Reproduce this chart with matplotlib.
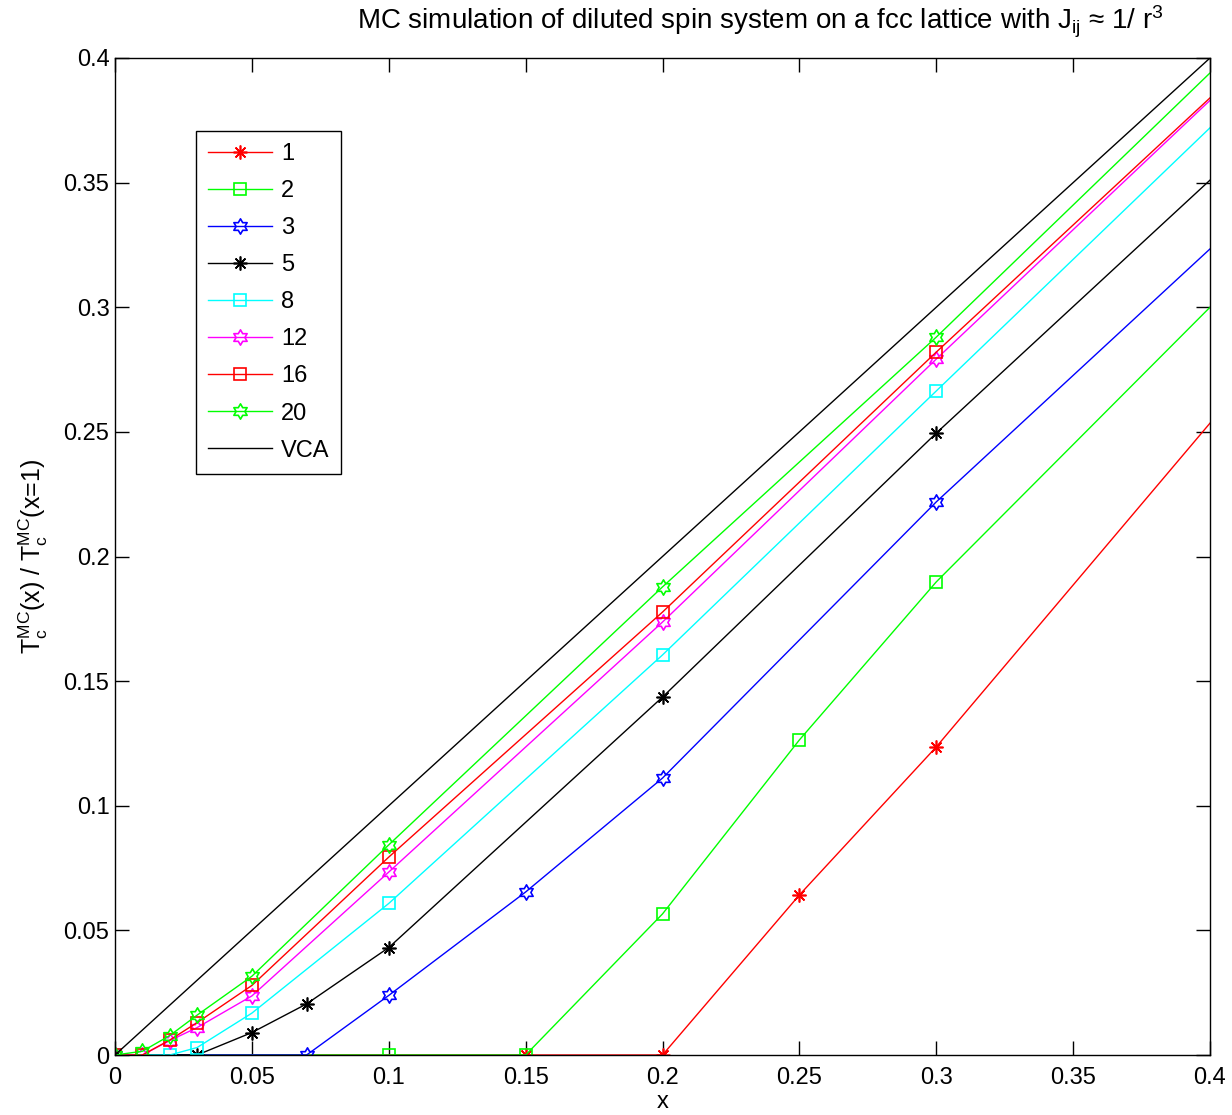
import matplotlib
matplotlib.use("Agg")
import matplotlib.pyplot as plt
from matplotlib.path import Path
import numpy as np

plt.rcParams['font.family'] = ['Liberation Sans', 'DejaVu Sans']
plt.rcParams['mathtext.fontset'] = 'custom'
plt.rcParams['mathtext.rm'] = 'Liberation Sans'
plt.rcParams['mathtext.it'] = 'Liberation Sans'
plt.rcParams['mathtext.default'] = 'regular'

# ---- data ----
labels = ["1", "2", "3", "5", "8", "12", "16", "20"]
x1 = [0, 0.15, 0.2, 0.25, 0.3, 0.4]
y1 = [0, 0, 0, 0.0642, 0.1236, 0.2535]
x2 = [0, 0.1, 0.15, 0.2, 0.25, 0.3, 0.4]
y2 = [0, 0, 0, 0.0566, 0.1264, 0.1898, 0.300]
x3 = [0, 0.07, 0.1, 0.15, 0.2, 0.3, 0.4]
y3 = [0, 0, 0.0239, 0.0654, 0.1111, 0.2219, 0.3234]
x5 = [0, 0.03, 0.05, 0.07, 0.1, 0.2, 0.3, 0.4]
y5 = [0, 0, 0.0090, 0.0205, 0.0431, 0.1436, 0.2495, 0.351]
x8 = [0, 0.02, 0.03, 0.05, 0.1, 0.2, 0.3, 0.4]
y8 = [0, 0, 0.0030, 0.0168, 0.0608, 0.1605, 0.2664, 0.372]
x12 = [0, 0.01, 0.02, 0.03, 0.05, 0.1, 0.2, 0.3, 0.4]
y12 = [0, 0, 0.0058, 0.0110, 0.0237, 0.0734, 0.1737, 0.2792, 0.383]
x16 = [0, 0.01, 0.02, 0.03, 0.05, 0.1, 0.2, 0.3, 0.4]
y16 = [0, 0, 0.0060, 0.0130, 0.0279, 0.0794, 0.1777, 0.2820, 0.384]
x20 = [0, 0.01, 0.02, 0.03, 0.05, 0.1, 0.2, 0.3, 0.4]
y20 = [0, 0.0015, 0.0078, 0.0160, 0.0316, 0.0843, 0.1878, 0.2880, 0.394]
xvca = [0, 0.4]
yvca = [0, 0.4]

xs = [x1, x2, x3, x5, x8, x12, x16, x20]
ys = [y1, y2, y3, y5, y8, y12, y16, y20]

hexagram = Path.unit_regular_star(6, 1 / np.sqrt(3))
asterisk = (8, 2, 0)
markers = [asterisk, 's', hexagram, asterisk, 's', hexagram, 's', hexagram]
msizes = [10, 8, 11, 10, 8, 11, 8, 11]
colors = ['#ff0000', '#00ff00', '#0000ff', '#000000', '#00ffff', '#ff00ff', '#ff0000', '#00ff00']

fig = plt.figure(figsize=(12.32, 11.15), dpi=100)
ax = fig.add_axes([115 / 1232, 60 / 1115, 1095 / 1232, 997 / 1115])

for x, y, m, ms, c, lab in zip(xs, ys, markers, msizes, colors, labels):
    ax.plot(x, y, color=c, lw=1.0, marker=m, markersize=ms, markerfacecolor='none',
            markeredgecolor=c, markeredgewidth=1.2, markevery=list(range(len(x) - 1)),
            label=lab, clip_on=True)
ax.plot(xvca, yvca, color='k', lw=1.0, label='VCA')

ax.set_xlim(0, 0.4)
ax.set_ylim(0, 0.4)
ticks = [0, 0.05, 0.1, 0.15, 0.2, 0.25, 0.3, 0.35, 0.4]
ticklabels = ['0', '0.05', '0.1', '0.15', '0.2', '0.25', '0.3', '0.35', '0.4']
ax.set_xticks(ticks)
ax.set_xticklabels(ticklabels)
ax.set_yticks(ticks)
ax.set_yticklabels(ticklabels)
ax.tick_params(direction='in', length=10, width=1, labelsize=17, top=True, right=True)
ax.tick_params(axis='x', pad=9)
ax.tick_params(axis='y', pad=4)
for s in ax.spines.values():
    s.set_linewidth(1.0)

ax.set_xlabel('x', fontsize=17, labelpad=1)
ax.set_ylabel(r'T$_\mathrm{c}^\mathrm{MC}$(x) / T$_\mathrm{c}^\mathrm{MC}$(x=1)', fontsize=18, labelpad=10)

fig.text(760 / 1232, 1 - 22 / 1115,
         r'MC simulation of diluted spin system on a fcc lattice with J$_{\mathrm{ij}}$ ≈ 1/ r$^{3}$',
         fontsize=20, ha='center', va='center')

leg = ax.legend(loc='upper left', bbox_to_anchor=((196 - 115) / 1095, (1055 - 131) / 997),
                borderaxespad=0, fancybox=False, edgecolor='k', framealpha=1,
                fontsize=17, handlelength=2.7, labelspacing=0.64, handletextpad=0.4,
                borderpad=0.5)
leg.get_frame().set_linewidth(1.0)

fig.savefig('out.png', dpi=100)
